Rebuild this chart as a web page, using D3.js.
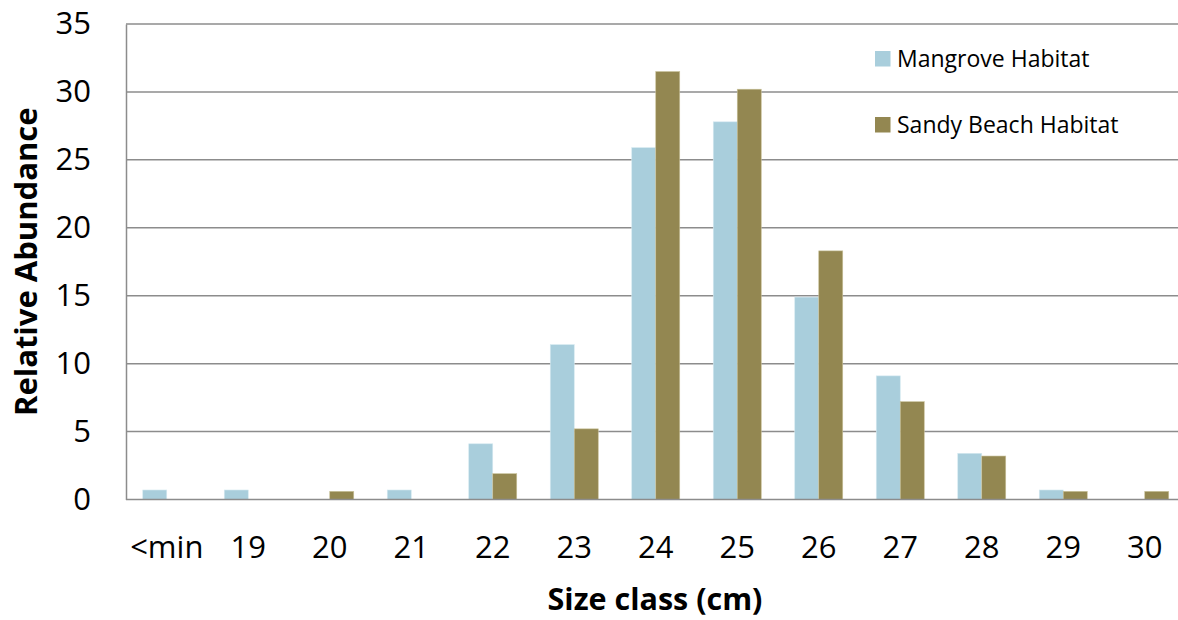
<!DOCTYPE html>
<html>
<head>
<meta charset="utf-8">
<script src="https://cdn.jsdelivr.net/npm/d3@7"></script>
<style>
  html, body { margin: 0; padding: 0; background: #fff; }
  svg { display: block; }
  text { font-family: "Open Sans", "Noto Sans", sans-serif; }
</style>
</head>
<body>
<svg id="chart" width="1178" height="620"></svg>
<script>
const categories = ["<min", "19", "20", "21", "22", "23", "24", "25", "26", "27", "28", "29", "30"];
const seriesNames = ["Mangrove Habitat", "Sandy Beach Habitat"];
const mangrove = [0.7, 0.7, 0, 0.7, 4.1, 11.4, 25.9, 27.8, 14.9, 9.1, 3.4, 0.7, 0];
const sandyBeach = [0, 0, 0.6, 0, 1.9, 5.2, 31.5, 30.2, 18.3, 7.2, 3.2, 0.6, 0.6];
const yTicks = [0, 5, 10, 15, 20, 25, 30, 35];
const colors = ["#A9CEDC", "#938751"];

(function () {
const svg = d3.select("#chart");
const W = 1178, H = 620;
const mLeft = 126, mTop = 24, mBottom = 499.5;
const bandW = 81.5;
const mRight = mLeft + bandW * categories.length;

const x = d3.scaleBand().domain(categories).range([mLeft, mRight]).padding(0);
const xSub = d3.scaleBand().domain([0, 1]).range([bandW / 2 - 24, bandW / 2 + 24]).padding(0);
const y = d3.scaleLinear().domain([0, 35]).range([mBottom, mTop]);

const g = svg.append("g");

// gridlines
g.append("g").selectAll("line").data(yTicks.filter(d => d > 0)).join("line")
  .attr("x1", mLeft).attr("x2", W)
  .attr("y1", d => y(d)).attr("y2", d => y(d))
  .attr("stroke", "#8c8c8c").attr("stroke-width", 1.5);

// bars
const series = [mangrove, sandyBeach];
const edge = ["#d6e9f0", "#c9c29a"];
series.forEach((vals, si) => {
  g.append("g").selectAll("rect").data(vals.map((v, i) => ({ v, c: categories[i] })).filter(d => d.v > 0))
    .join("rect")
    .attr("x", d => x(d.c) + xSub(si))
    .attr("width", xSub.bandwidth())
    .attr("y", d => y(d.v))
    .attr("height", d => y(0) - y(d.v))
    .attr("fill", colors[si])
    .attr("stroke", edge[si]).attr("stroke-width", 0.6);
});

// y axis
const yAxis = d3.axisLeft(y).tickValues(yTicks).tickSize(0).tickPadding(35);
const ya = svg.append("g").attr("transform", `translate(${mLeft},0)`).call(yAxis);
ya.select(".domain").attr("stroke", "#8c8c8c").attr("stroke-width", 1.5);
ya.selectAll("text").attr("font-size", 31).attr("fill", "#000")
  .attr("font-family", "'Open Sans', sans-serif");

// x axis
const xAxis = d3.axisBottom(x).tickSize(0).tickPadding(36);
const xa = svg.append("g").attr("transform", `translate(0,${mBottom})`).call(xAxis);
xa.select(".domain").remove();
svg.append("line").attr("x1", mLeft).attr("x2", W).attr("y1", mBottom).attr("y2", mBottom)
  .attr("stroke", "#8c8c8c").attr("stroke-width", 1.5);
xa.selectAll("text").attr("font-size", 31).attr("fill", "#000")
  .attr("font-family", "'Open Sans', sans-serif");

// axis titles
svg.append("text").attr("x", 655).attr("y", 610).attr("text-anchor", "middle")
  .attr("font-size", 30.5).attr("font-weight", "bold").attr("fill", "#000")
  .text("Size class (cm)");
svg.append("text").attr("transform", `translate(37,${(mTop + mBottom) / 2}) rotate(-90)`)
  .attr("text-anchor", "middle")
  .attr("font-size", 31).attr("font-weight", "bold").attr("fill", "#000")
  .text("Relative Abundance");

// legend
const legendY = [59, 125];
const lg = svg.append("g");
seriesNames.forEach((name, i) => {
  lg.append("rect").attr("x", 875).attr("y", legendY[i] - 8).attr("width", 15.5).attr("height", 15.5)
    .attr("fill", colors[i]);
  lg.append("text").attr("x", 897).attr("y", legendY[i]).attr("dy", "0.35em")
    .attr("font-size", 23).attr("fill", "#000").text(name);
});
})();
</script>
</body>
</html>
